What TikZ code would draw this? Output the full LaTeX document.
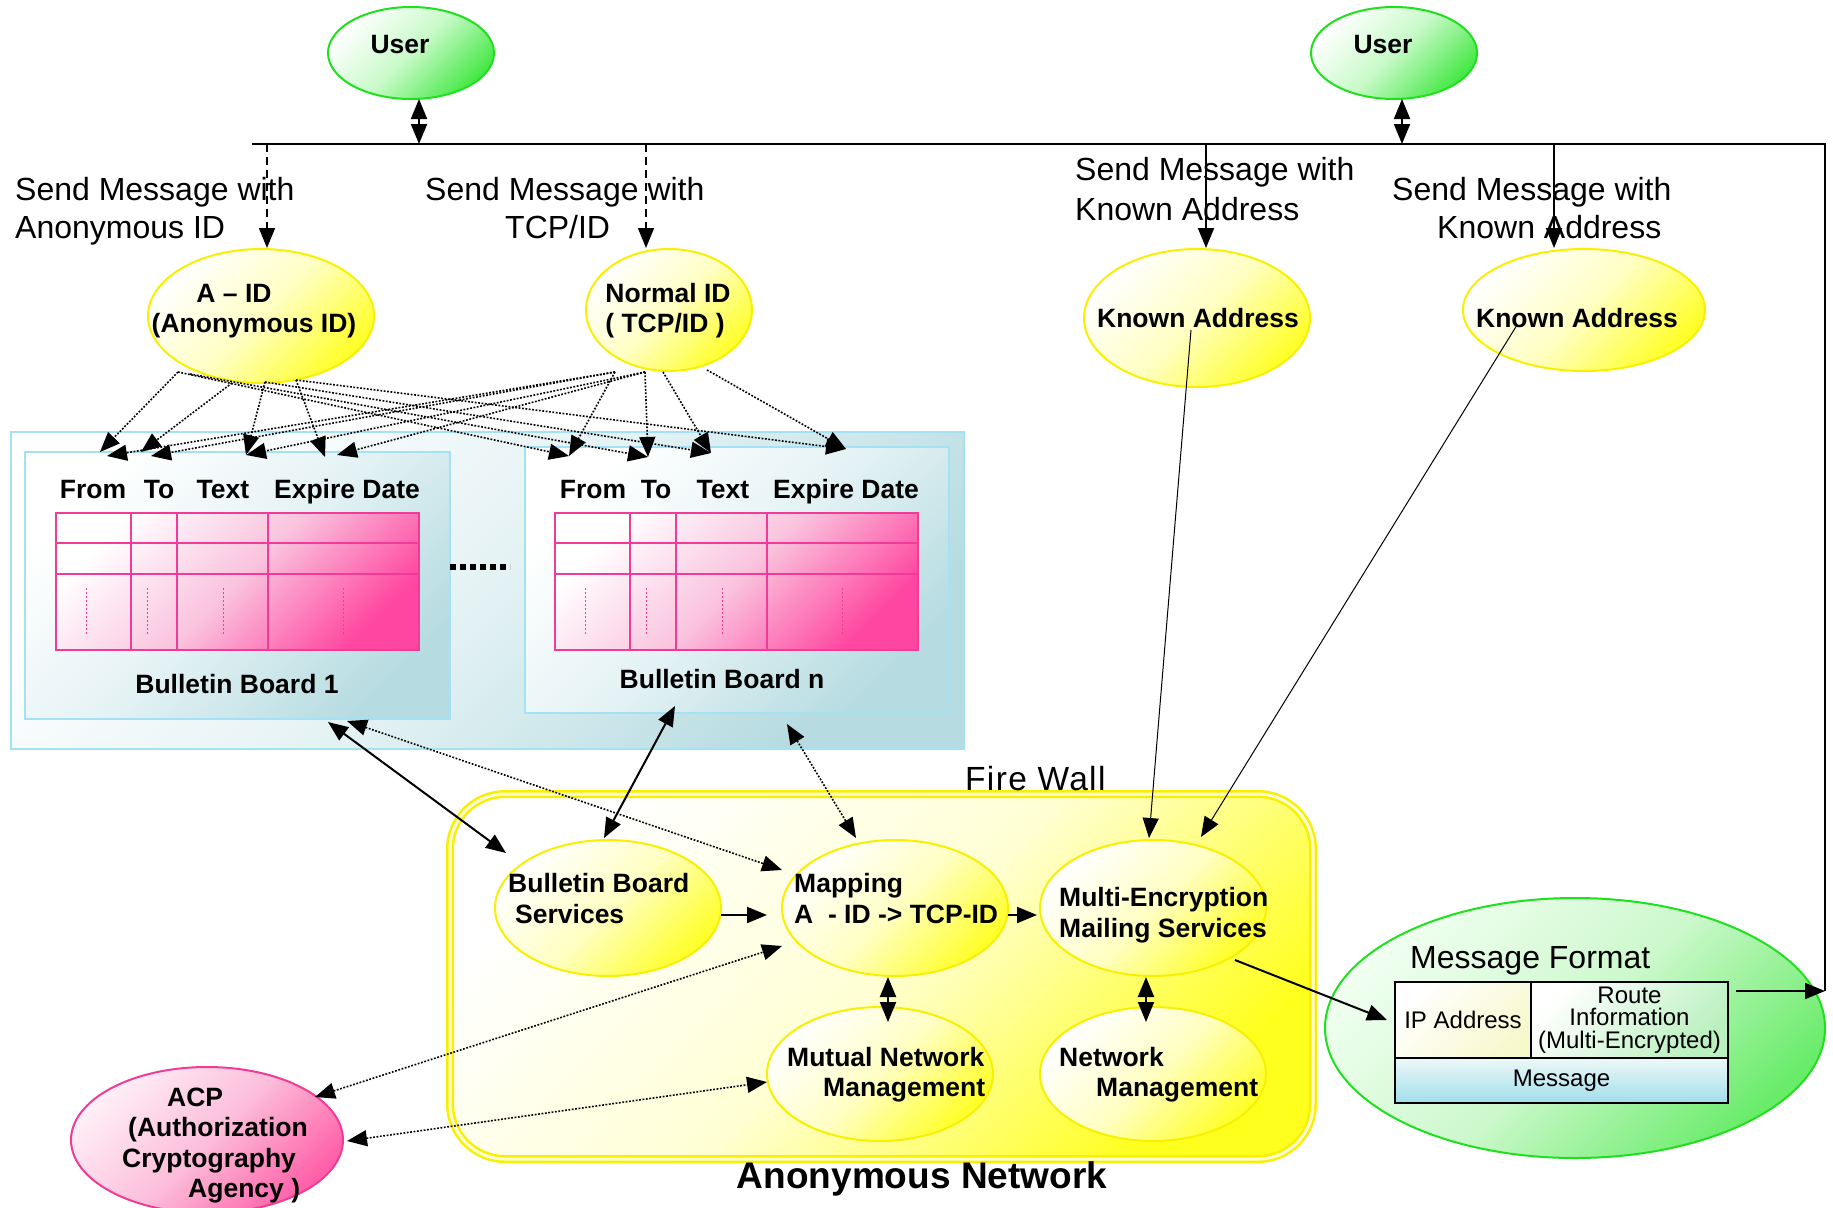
\documentclass[tikz,border=0pt]{standalone}
\usepackage{fontspec}
\setmainfont{Liberation Sans}
\usetikzlibrary{arrows.meta,shapes.geometric,calc}

\definecolor{ybord}{RGB}{248,240,0}
\definecolor{ymid}{RGB}{255,255,195}
\definecolor{yfull}{RGB}{255,255,40}
\definecolor{fwmid}{RGB}{255,255,212}
\definecolor{fwfull}{RGB}{255,255,30}
\definecolor{gbord}{RGB}{30,225,30}
\definecolor{gmid}{RGB}{200,250,200}
\definecolor{gfull}{RGB}{70,232,70}
\definecolor{mftop}{RGB}{240,255,240}
\definecolor{mfmid}{RGB}{205,248,205}
\definecolor{mffull}{RGB}{105,236,105}
\definecolor{pbord}{RGB}{240,60,150}
\definecolor{pmid}{RGB}{250,195,222}
\definecolor{pfull}{RGB}{255,70,160}
\definecolor{acptop}{RGB}{255,238,246}
\definecolor{acpmid}{RGB}{252,190,218}
\definecolor{acpfull}{RGB}{255,95,168}
\definecolor{bbord}{RGB}{165,225,245}
\definecolor{bmid}{RGB}{228,242,244}
\definecolor{bfull}{RGB}{182,220,225}
\definecolor{ipfill}{RGB}{248,248,205}
\definecolor{rtfill}{RGB}{185,240,190}
\definecolor{mgtop}{RGB}{238,248,248}
\definecolor{mgfull}{RGB}{160,222,235}

\begin{document}
\begin{tikzpicture}[x=1pt,y=-1pt,
  >={Triangle[length=20pt,width=16pt]},
  yell/.style={ellipse, draw=ybord, line width=2pt, inner sep=0,
    top color=white, bottom color=yfull, middle color=ymid, shading angle=45},
  grn/.style={ellipse, draw=gbord, line width=2pt, inner sep=0,
    top color=white, bottom color=gfull, middle color=gmid, shading angle=45},
  pnk/.style={ellipse, draw=pbord, line width=2pt, inner sep=0,
    top color=acptop, bottom color=acpfull, middle color=acpmid, shading angle=45},
  bbox/.style={rectangle, draw=bbord, line width=2pt, inner sep=0,
    top color=white, bottom color=bfull, middle color=bmid, shading angle=45},
  cell/.style={rectangle, draw=black, line width=2pt, inner sep=0},
  lb/.style={font=\fontsize{26.5}{30}\selectfont\bfseries, inner sep=0, anchor=base},
  lbw/.style={font=\fontsize{26.5}{30}\selectfont\bfseries, inner sep=0, anchor=base west},
  lr/.style={font=\fontsize{32}{36}\selectfont, inner sep=0, anchor=base west},
  ls/.style={font=\fontsize{24}{22.5}\selectfont, inner sep=0, align=center},
  conn/.style={line width=2pt},
  thinc/.style={line width=1pt},
  dotc/.style={line width=1.6pt, dash pattern=on 1.8pt off 1.6pt},
  dashc/.style={line width=1.5pt, dash pattern=on 8pt off 5pt},
]
\useasboundingbox (0,0) rectangle (1833,1207);
\clip (0,0) rectangle (1833,1207);

% ---------- bulletin boards ----------
\node[bbox, minimum width=953pt, minimum height=317pt] (board) at (487.5,590.5) {};
\node[bbox, minimum width=425pt, minimum height=267pt] (bb1) at (237.5,585.5) {};
\node[bbox, minimum width=424pt, minimum height=266pt] (bbn) at (737,580) {};

\foreach \dx in {0,499} {
  \begin{scope}[shift={(\dx,0)}]
    \fill[top color=white, bottom color=pfull, middle color=pmid, shading angle=45]
      (56,513) rectangle (419,650);
    \draw[pbord, line width=2pt] (56,513) rectangle (419,650)
      (131,513) -- (131,650) (177,513) -- (177,650) (268,513) -- (268,650)
      (56,543) -- (419,543) (56,574) -- (419,574);
    \draw[pbord, line width=1pt, dash pattern=on 2pt off 2pt]
      (86,588) -- (86,635) (147,588) -- (147,635)
      (223,588) -- (223,635) (343,588) -- (343,635);
  \end{scope}
}

\node[lb] (h1a) at (93,498) {From};
\node[lb] (h1b) at (159,498) {To};
\node[lb] (h1c) at (223,498) {Text};
\node[lb] (h1d) at (347,498) {Expire Date};
\node[lb] (hna) at (593,498) {From};
\node[lb] (hnb) at (656,498) {To};
\node[lb] (hnc) at (723,498) {Text};
\node[lb] (hnd) at (846,498) {Expire Date};
\node[lb] (bb1t) at (237,693) {Bulletin Board 1};
\node[lb] (bbnt) at (722,688) {Bulletin Board n};

\draw[line width=6pt, dash pattern=on 6pt off 4pt] (450,567) -- (510,567);

% ---------- users and the message bus ----------
\node[grn, minimum width=166pt, minimum height=92pt] (user1) at (411,53) {};
\node[lb] (user1t) at (400,54) {User};
\node[grn, minimum width=166pt, minimum height=92pt] (user2) at (1394,53) {};
\node[lb] (user2t) at (1383,54) {User};

\coordinate (busL) at (252,144);
\coordinate (busR) at (1825,144);
\coordinate (busB) at (1825,991);
\draw[conn] (busL) -- (busR) -- (busB);

\coordinate (b1) at (419,144);
\coordinate (b2) at (267,144);
\coordinate (b3) at (646,144);
\coordinate (b4) at (1206,144);
\coordinate (b5) at (1402,144);
\coordinate (b6) at (1554,144);

% ---------- address nodes ----------
\node[yell, minimum width=226pt, minimum height=134pt] (aid) at (261,316) {};
\node[lb] (aidt1) at (234,302) {A – ID};
\node[lb] (aidt2) at (254,332) {(Anonymous ID)};
\node[yell, minimum width=166pt, minimum height=122pt] (nid) at (669,310) {};
\node[lb] (nidt1) at (668,302) {Normal ID};
\node[lb] (nidt2) at (665,332) {( TCP/ID )};
\node[yell, minimum width=226pt, minimum height=138pt] (ka1) at (1197,318) {};
\node[lb] (ka1t) at (1198,327) {Known Address};
\node[yell, minimum width=242pt, minimum height=122pt] (ka2) at (1584,310) {};
\node[lb] (ka2t) at (1577,327) {Known Address};

% send labels
\node[lr] (s1a) at (15,200) {Send Message with};
\node[lr] (s1b) at (15,238) {Anonymous ID};
\node[lr] (s2a) at (425,200) {Send Message with};
\node[lr] (s2b) at (505,238) {TCP/ID};
\node[lr] (s3a) at (1075,180) {Send Message with};
\node[lr] (s3b) at (1075,220) {Known Address};
\node[lr] (s4a) at (1392,200) {Send Message with};
\node[lr] (s4b) at (1437,238) {Known Address};

\draw[conn,<->] ($(user1.center)+(8,46)$) -- (b1);
\draw[conn,<->] ($(user2.center)+(8,46)$) -- (b5);
\draw[dashc,->] (b2) -- ($(aid.center)+(6,-68)$);
\draw[dashc,->] (b3) -- ($(nid.center)+(-23,-62)$);
\draw[conn,->] (b4) -- ($(ka1.center)+(9,-70)$);
\draw[conn,->] (b6) -- ($(ka2.center)+(-30,-62)$);

% ---------- postings onto the boards ----------
\coordinate (bf1a) at (100,452);
\coordinate (bf1b) at (107,456);
\coordinate (bt1a) at (141,452);
\coordinate (bt1b) at (151,456);
\coordinate (bx1) at (246,455);
\coordinate (be1a) at (325,457);
\coordinate (be1b) at (337,455);
\coordinate (bfn) at (569,456);
\coordinate (btn) at (648,457);
\coordinate (bxn) at (711,453);
\coordinate (ben) at (846,449);

\draw[dotc,->] ($(aid.center)+(-83,56)$) -- (bf1a);
\draw[dotc,->] ($(aid.center)+(-29,67)$) -- (bt1a);
\draw[dotc,->] ($(aid.center)+(4,66)$) -- (bx1);
\draw[dotc,->] ($(aid.center)+(35,64)$) -- (be1a);
\draw[dotc,->] ($(aid.center)+(-83,56)$) -- (bfn);
\draw[dotc,->] ($(aid.center)+(-71,58)$) -- (btn);
\draw[dotc,->] ($(aid.center)+(4,66)$) -- (bxn);
\draw[dotc,->] ($(aid.center)+(35,64)$) -- (ben);
\draw[dotc,->] ($(nid.center)+(-54,62)$) -- (bf1b);
\draw[dotc,->] ($(nid.center)+(-54,62)$) -- (bt1b);
\draw[dotc,->] ($(nid.center)+(-24,62)$) -- (bx1);
\draw[dotc,->] ($(nid.center)+(-24,62)$) -- (be1b);
\draw[dotc,->] ($(nid.center)+(-54,62)$) -- (bfn);
\draw[dotc,->] ($(nid.center)+(-24,62)$) -- (btn);
\draw[dotc,->] ($(nid.center)+(-6,62)$) -- (bxn);
\draw[dotc,->] ($(nid.center)+(38,60)$) -- (ben);

% ---------- anonymous network behind the fire wall ----------
\node[rectangle, rounded corners=55pt, minimum width=863pt, minimum height=365pt,
  top color=white, bottom color=fwfull, middle color=fwmid, shading angle=45,
  draw=ybord, line width=2.5pt, double=fwmid, double distance=3pt] (fw) at (881.5,976.5) {};
\node[lr, font=\fontsize{33.5}{36}\selectfont\addfontfeature{LetterSpace=4}] (fwt) at (965,790) {Fire Wall};
\node[font=\fontsize{37}{40}\selectfont\bfseries, inner sep=0, anchor=base] (ant) at (922,1188) {Anonymous Network};

\node[yell, minimum width=226pt, minimum height=136pt] (bbs) at (608,908) {};
\node[yell, minimum width=226pt, minimum height=136pt] (map) at (895,908) {};
\node[yell, minimum width=226pt, minimum height=136pt] (mes) at (1153,908) {};
\node[yell, minimum width=226pt, minimum height=134pt] (mnm) at (880,1074) {};
\node[yell, minimum width=226pt, minimum height=134pt] (nm) at (1153,1074) {};

\node[lbw] (bbst1) at (508,892) {Bulletin Board};
\node[lbw] (bbst2) at (515,923) {Services};
\node[lbw] (mapt1) at (794,892) {Mapping};
\node[lbw] (mapt2) at (794,923) {A\ \ - ID -> TCP-ID};
\node[lbw] (mest1) at (1059,906) {Multi-Encryption};
\node[lbw] (mest2) at (1059,937) {Mailing Services};
\node[lbw] (mnmt1) at (787,1066) {Mutual Network};
\node[lbw] (mnmt2) at (823,1096) {Management};
\node[lbw] (nmt1) at (1059,1066) {Network};
\node[lbw] (nmt2) at (1096,1096) {Management};

% ---------- ACP ----------
\node[pnk, minimum width=272pt, minimum height=146pt] (acp) at (207,1140) {};
\node[lbw] (acpt1) at (167,1106) {ACP};
\node[lbw] (acpt2) at (128,1136) {(Authorization};
\node[lbw] (acpt3) at (122,1167) {Cryptography};
\node[lbw] (acpt4) at (188,1197) {Agency )};

% ---------- message format ----------
\node[ellipse, draw=gbord, line width=2pt, inner sep=0, minimum width=500pt, minimum height=260pt,
  top color=mftop, bottom color=mffull, middle color=mfmid, shading angle=45] (mf) at (1575,1028) {};
\node[lr] (mft) at (1410,968) {Message Format};
\node[cell, minimum width=136pt, minimum height=76pt,
  top color=white, bottom color=ipfill, shading angle=45, ls] (ip) at (1463,1020) {IP Address};
\node[cell, minimum width=197pt, minimum height=76pt,
  top color=white, bottom color=rtfill, shading angle=45, ls] (route) at (1629.5,1020)
  {Route\\Information\\(Multi-Encrypted)};
\node[cell, minimum width=333pt, minimum height=45pt,
  top color=mgtop, bottom color=mgfull, ls] (msgrow) at (1561.5,1080.5) {Message};

% ---------- connectors ----------
\draw[conn,<->] ($(bb1.center)+(90.5,136.5)$) -- ($(bbs.center)+(-102,-55)$);
\draw[dotc,<->] ($(bb1.center)+(109.5,135.5)$) -- ($(map.center)+(-113,-38)$);
\draw[conn,<->] ($(bbn.center)+(-62,126)$) -- ($(bbs.center)+(-4,-70)$);
\draw[dotc,<->] ($(bbn.center)+(50,144)$) -- ($(map.center)+(-39,-70)$);
\draw[thinc,->] ($(ka1.center)+(-6,12)$) -- ($(mes.center)+(-4,-70)$);
\draw[thinc,->] ($(ka2.center)+(-67,15)$) -- ($(mes.center)+(48,-71)$);
\draw[conn,->] ($(bbs.center)+(113,7)$) -- ($(map.center)+(-128,7)$);
\draw[conn,->] ($(map.center)+(113,7)$) -- ($(mes.center)+(-116,7)$);
\draw[conn,<->] ($(map.center)+(-7,69)$) -- ($(mnm.center)+(8,-52)$);
\draw[conn,<->] ($(mes.center)+(-7,69)$) -- ($(nm.center)+(-7,-52)$);
\draw[conn,->] ($(mes.center)+(82,52)$) -- ($(mf.center)+(-188,-8)$);
\draw[conn,->] ($(route.east)+(7,-29)$) -- (busB);
\draw[dotc,<->] ($(acp.center)+(108,-43)$) -- ($(map.center)+(-113,38)$);
\draw[dotc,<->] ($(acp.center)+(140,1)$) -- ($(mnm.center)+(-113,8)$);

\end{tikzpicture}
\end{document}
